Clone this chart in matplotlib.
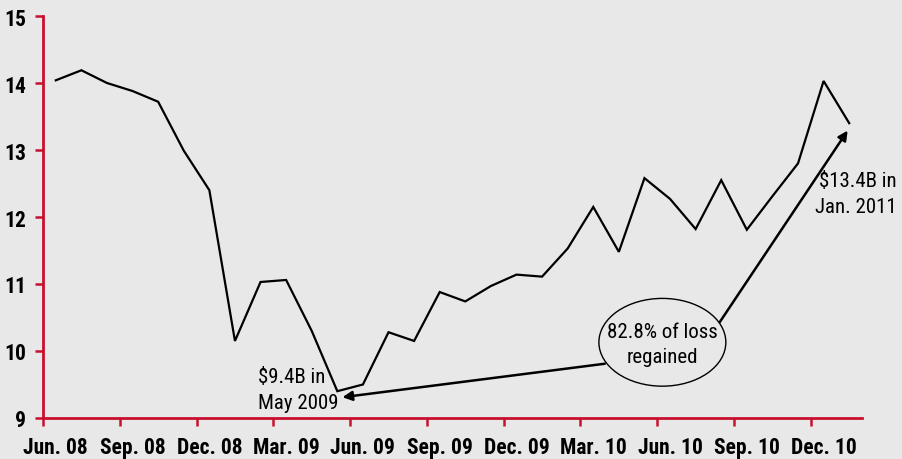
import matplotlib
matplotlib.use("Agg")
import matplotlib.pyplot as plt
from matplotlib import font_manager
from matplotlib.patches import Ellipse

months = ["Jun. 08", "Jul. 08", "Aug. 08", "Sep. 08", "Oct. 08", "Nov. 08", "Dec. 08",
          "Jan. 09", "Feb. 09", "Mar. 09", "Apr. 09", "May 09", "Jun. 09", "Jul. 09",
          "Aug. 09", "Sep. 09", "Oct. 09", "Nov. 09", "Dec. 09", "Jan. 10", "Feb. 10",
          "Mar. 10", "Apr. 10", "May 10", "Jun. 10", "Jul. 10", "Aug. 10", "Sep. 10",
          "Oct. 10", "Nov. 10", "Dec. 10", "Jan. 11"]
values = [14.04, 14.19, 14.00, 13.88, 13.72, 12.99, 12.40,
          10.15, 11.03, 11.06, 10.30, 9.40, 9.50, 10.28,
          10.15, 10.88, 10.74, 10.97, 11.14, 11.11, 11.53,
          12.15, 11.48, 12.58, 12.27, 11.82, 12.55, 11.81,
          12.31, 12.80, 14.03, 13.40]
tick_labels = ["Jun. 08", "Sep. 08", "Dec. 08", "Mar. 09", "Jun. 09", "Sep. 09",
               "Dec. 09", "Mar. 10", "Jun. 10", "Sep. 10", "Dec. 10"]
y_ticks = [9, 10, 11, 12, 13, 14, 15]

BG = "#e8e8e8"
RED = "#c8102e"

# prefer a condensed face; otherwise a regular sans at a smaller size
installed = {f.name for f in font_manager.fontManager.ttflist}
condensed = [n for n in ["Liberation Sans Narrow", "DejaVu Sans Condensed",
                         "Roboto Condensed", "Open Sans Condensed", "Noto Sans Condensed"]
             if n in installed]
if condensed:
    FONT = [condensed[0], "DejaVu Sans"]
    TICK_SIZE, NOTE_SIZE = 15.5, 15
else:
    FONT = ["Liberation Sans", "DejaVu Sans"]
    TICK_SIZE, NOTE_SIZE = 12.5, 13

fig = plt.figure(figsize=(9.02, 4.6), dpi=100, facecolor=BG)
ax = fig.add_axes([43 / 902, 41 / 460, 819 / 902, 402 / 460], facecolor=BG)

x = list(range(len(values)))
ax.plot(x, values, color="black", lw=1.6, solid_joinstyle="miter")

ax.set_xlim(-0.5, len(values) - 0.5)
ax.set_ylim(y_ticks[0], y_ticks[-1])

# category axis: tick marks sit between months, labels centred on months
label_pos = [months.index(t) for t in tick_labels]
ax.set_xticks([p - 0.5 for p in label_pos])
ax.set_xticklabels([])
ax.set_xticks(label_pos, minor=True)
ax.set_xticklabels(tick_labels, minor=True)
ax.tick_params(axis="x", which="major", direction="out", length=6, width=1.8, color=RED)
ax.tick_params(axis="x", which="minor", length=0, pad=13)
ax.set_yticks(y_ticks)
ax.tick_params(axis="y", direction="out", length=6, width=1.8, color=RED, pad=6)
for lab in ax.get_xticklabels(minor=True) + ax.get_yticklabels():
    lab.set_family(FONT)
    lab.set_fontsize(TICK_SIZE)
    lab.set_fontweight("bold")

for s in ["top", "right"]:
    ax.spines[s].set_visible(False)
for s in ["left", "bottom"]:
    ax.spines[s].set_color(RED)
    ax.spines[s].set_linewidth(2)

txt = dict(family=FONT, fontsize=NOTE_SIZE, color="black")

ax.text(7.9, 9.43, "$9.4B in\nMay 2009", ha="left", va="center", linespacing=1.45, **txt)
ax.text(32.86, 12.35, "$13.4B in\nJan. 2011", ha="right", va="center",
        multialignment="right", linespacing=1.45, clip_on=False, **txt)

ell = Ellipse((23.7, 10.13), 4.96, 1.31, facecolor="none", edgecolor="black", lw=1.0)
ax.add_patch(ell)
ax.text(23.7, 10.11, "82.8% of loss\nregained", ha="center", va="center", linespacing=1.4, **txt)

arrow = dict(arrowstyle="-|>", color="black", lw=1.8, mutation_scale=14, shrinkA=0, shrinkB=0)
ax.annotate("", xy=(11.2, 9.31), xytext=(21.45, 9.81), arrowprops=arrow)
ax.annotate("", xy=(30.94, 13.29), xytext=(25.94, 10.43), arrowprops=arrow)

fig.savefig("out.png", dpi=100, facecolor=BG)
